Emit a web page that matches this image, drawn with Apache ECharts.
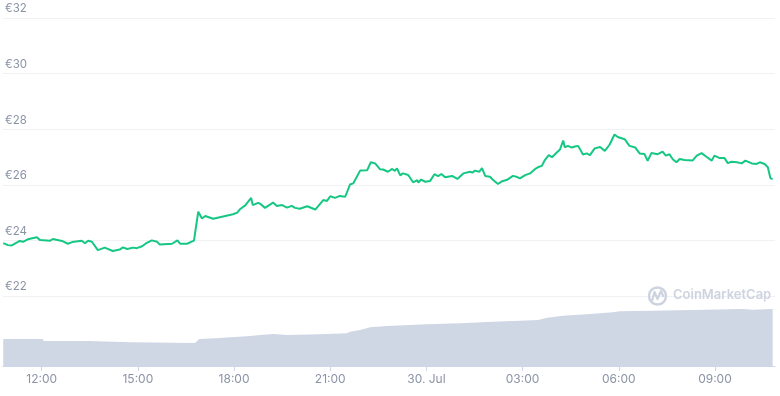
<!DOCTYPE html>
<html>
<head>
<meta charset="utf-8">
<script src="https://cdn.jsdelivr.net/npm/echarts@6/dist/echarts.min.js"></script>
<style>
html,body{margin:0;padding:0;background:#fff;}
#chart{width:780px;height:396px;}
</style>
</head>
<body>
<div id="chart"></div>
<script>
// Time values: minutes since 29 Jul 00:00
const axisMin = 647.6;
const axisMax = 2092.4;
const tickMinutes = [720, 900, 1080, 1260, 1440, 1620, 1800, 1980];
const tickLabels = ['12:00', '15:00', '18:00', '21:00', '30. Jul', '03:00', '06:00', '09:00'];
const priceTicks = [22, 24, 26, 28, 30, 32];

const priceTimes = [648,657,664,679,685,694,711,717,736,741,758,769,777,795,801,807,814,825,838,853,866,872,880,891,898,908,915,926,936,941,964,974,979,992,1005,1013,1020,1026,1041,1078,1086,1091,1101,1112,1115,1125,1129,1138,1153,1160,1170,1179,1188,1194,1203,1217,1232,1247,1254,1260,1269,1278,1288,1291,1297,1303,1316,1329,1336,1344,1353,1359,1368,1376,1381,1385,1391,1396,1406,1415,1423,1425,1430,1438,1447,1455,1462,1468,1475,1488,1498,1509,1522,1526,1531,1539,1544,1550,1559,1565,1574,1582,1591,1602,1610,1615,1625,1634,1643,1651,1656,1662,1669,1675,1684,1690,1696,1699,1705,1712,1718,1724,1733,1740,1746,1755,1765,1774,1783,1792,1798,1801,1811,1820,1831,1839,1848,1854,1861,1873,1882,1888,1895,1901,1908,1914,1923,1938,1946,1955,1964,1974,1979,1989,1998,2004,2011,2021,2030,2037,2049,2058,2064,2073,2079,2084,2088];
const priceValues = [23.90,23.83,23.82,23.98,23.95,24.04,24.11,24.01,23.99,24.05,23.98,23.88,23.94,23.99,23.90,23.99,23.95,23.65,23.74,23.62,23.67,23.75,23.69,23.74,23.72,23.79,23.89,24.00,23.95,23.85,23.88,24.00,23.88,23.88,23.99,25.03,24.79,24.88,24.78,24.94,25.00,25.12,25.26,25.53,25.27,25.35,25.32,25.17,25.36,25.24,25.27,25.18,25.24,25.17,25.14,25.23,25.11,25.45,25.42,25.59,25.53,25.60,25.57,25.62,26.01,26.05,26.51,26.52,26.81,26.77,26.56,26.55,26.47,26.57,26.50,26.59,26.34,26.41,26.35,26.09,26.17,26.08,26.19,26.11,26.14,26.38,26.31,26.39,26.27,26.32,26.21,26.41,26.47,26.44,26.51,26.47,26.60,26.32,26.29,26.17,26.03,26.13,26.18,26.32,26.28,26.23,26.35,26.41,26.56,26.65,26.68,26.90,27.07,26.99,27.16,27.27,27.59,27.35,27.40,27.34,27.38,27.40,27.09,27.13,27.07,27.31,27.36,27.22,27.45,27.81,27.72,27.65,27.64,27.40,27.34,27.13,27.11,26.86,27.14,27.10,27.19,27.05,27.10,26.92,26.81,26.93,26.89,26.87,27.05,27.14,27.01,26.87,27.05,26.96,26.96,26.78,26.83,26.81,26.77,26.87,26.77,26.75,26.81,26.75,26.63,26.23,26.21];

const volumeTimes = [648,722,724,807,809,885,887,1007,1015,1045,1110,1129,1153,1179,1241,1291,1297,1316,1335,1366,1441,1503,1565,1615,1649,1666,1696,1740,1789,1802,1864,1939,2032,2051,2088];
const volumeValues = [38.6,38.6,35.7,35.7,33.9,33.9,32.9,32.9,38.6,39.6,42.9,44.3,45.7,44.3,45.3,46.7,49.0,51.4,55.3,57.1,59.6,61.0,63.3,64.7,65.7,69.0,71.9,73.9,76.7,78.1,79.0,80.0,81.4,80.4,81.4];

const priceData = priceTimes.map((t, i) => [t, priceValues[i]]);
const volumeData = volumeTimes.map((t, i) => [t, volumeValues[i]]);

const chart = echarts.init(document.getElementById('chart'), null, {renderer: 'canvas'});
const labelColor = '#8a93a6';
const font = 'Inter, "Noto Sans", sans-serif';

chart.setOption({
  animation: false,
  backgroundColor: '#ffffff',
  textStyle: {fontFamily: font},
  grid: [
    {left: 3, right: 5, top: 18, height: 278},
    {left: 3, right: 5, top: 296, height: 70}
  ],
  xAxis: [
    {gridIndex: 0, type: 'value', min: axisMin, max: axisMax, show: false},
    {
      gridIndex: 1, type: 'value', min: axisMin, max: axisMax,
      axisLine: {show: true, lineStyle: {color: '#ccd6eb', width: 1}},
      axisTick: {show: true, customValues: tickMinutes, length: 5, lineStyle: {color: '#ccd6eb'}},
      axisLabel: {
        customValues: tickMinutes, color: labelColor, fontSize: 12, margin: 7, fontFamily: font,
        formatter: v => { const i = tickMinutes.indexOf(Math.round(v)); return i >= 0 ? tickLabels[i] : ''; }
      },
      splitLine: {show: false}
    }
  ],
  yAxis: [
    {
      gridIndex: 0, type: 'value', min: priceTicks[0], max: priceTicks[priceTicks.length - 1], interval: 2,
      axisLine: {show: false}, axisTick: {show: false},
      axisLabel: {inside: true, margin: 2, verticalAlign: 'bottom', padding: [0, 0, 3, 0],
        color: labelColor, fontSize: 11.5, fontFamily: font, formatter: '€{value}'},
      splitLine: {show: true, lineStyle: {color: '#eff2f5', width: 1}}
    },
    {gridIndex: 1, type: 'value', min: 0, max: 100, show: false, splitLine: {show: false}}
  ],
  series: [
    {
      type: 'line', xAxisIndex: 1, yAxisIndex: 1, data: volumeData, symbol: 'none',
      lineStyle: {width: 0}, areaStyle: {color: '#cfd6e4', opacity: 1}, z: 1
    },
    {
      type: 'line', xAxisIndex: 0, yAxisIndex: 0, data: priceData, symbol: 'none',
      lineStyle: {color: '#16c784', width: 2}, z: 3
    }
  ],
  graphic: [
    {type: 'circle', shape: {cx: 657.5, cy: 296, r: 8.5}, style: {fill: 'none', stroke: '#cdd3df', lineWidth: 2.5}, z: 10},
    {type: 'polyline', shape: {points: [[652, 301], [654.5, 292], [657.5, 299], [661, 291], [663.5, 297]]},
      style: {fill: 'none', stroke: '#cdd3df', lineWidth: 2.2, lineJoin: 'round'}, z: 10},
    {type: 'text', left: 673, top: 289, style: {text: 'CoinMarketCap', fill: '#cdd3df', font: '600 13px Inter, sans-serif'}, z: 10}
  ]
});
</script>
</body>
</html>
